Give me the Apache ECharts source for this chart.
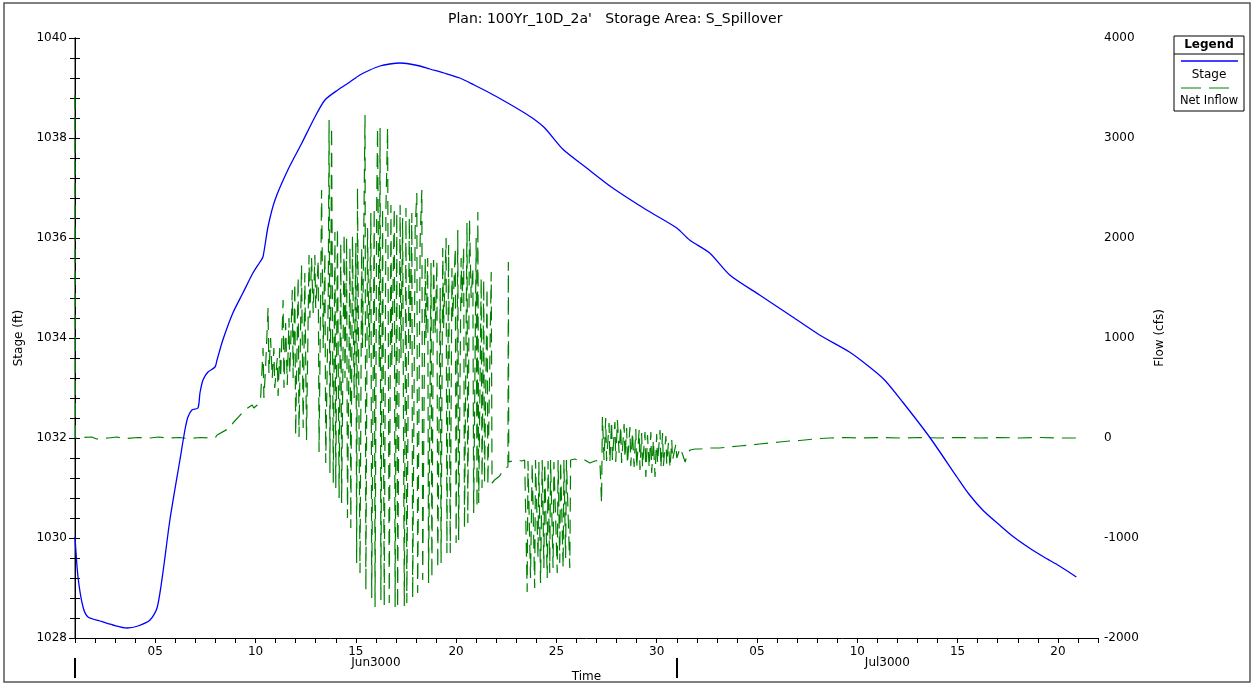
<!DOCTYPE html>
<html>
<head>
<meta charset="utf-8">
<script src="https://cdn.jsdelivr.net/npm/echarts@6/dist/echarts.min.js"></script>
<style>html,body{margin:0;padding:0;background:#fff}#c{width:1253px;height:685px}</style>
</head>
<body>
<div id="c"></div>
<script>
// ---- data ----
const titleText = "Plan: 100Yr_10D_2a'   Storage Area: S_Spillover";
// Stage: time in days since Jun 1 3000 00:00, stage in ft
const stageDay = [0,0.15,0.40,0.65,1.25,1.89,2.59,3.14,3.74,4.09,4.38,4.73,5.23,5.48,5.63,5.83,6.13,6.23,6.38,6.63,6.98,7.08,7.37,7.87,8.37,8.87,9.22,9.37,9.62,9.97,10.61,11.31,11.96,12.46,13.10,13.70,14.20,14.70,15.20,15.69,16.20,16.69,17.20,17.69,18.40,19.18,19.90,20.68,21.40,22.17,22.80,23.42,24.31,25.51,26.81,28.50,30.00,30.64,31.64,32.64,34.13,35.63,37.12,38.61,39.61,40.36,41.26,42.60,44.00,44.60,45.30,46.09,46.80,47.58,48.30,49.08,49.92];
const stageFt = [1030.02,1029.22,1028.62,1028.42,1028.34,1028.26,1028.20,1028.24,1028.36,1028.60,1029.30,1030.36,1031.56,1032.16,1032.42,1032.56,1032.60,1032.90,1033.16,1033.32,1033.42,1033.56,1033.96,1034.50,1034.90,1035.30,1035.52,1035.62,1036.22,1036.76,1037.36,1037.90,1038.42,1038.76,1038.96,1039.12,1039.26,1039.36,1039.44,1039.48,1039.50,1039.48,1039.44,1039.38,1039.30,1039.20,1039.06,1038.90,1038.74,1038.56,1038.40,1038.20,1037.78,1037.40,1037.00,1036.56,1036.20,1035.96,1035.70,1035.26,1034.86,1034.46,1034.06,1033.72,1033.42,1033.16,1032.72,1032.02,1031.20,1030.86,1030.54,1030.26,1030.02,1029.80,1029.62,1029.44,1029.22];
// Net inflow: [hours since Jun 1 3000 00:00, cfs]
const netInflow = [[0,3430],[0.5,0],[20,10],[26,-10],[40,0],[50,10],[60,-5],[75,5],[90,0],[100,10],[110,0],[125,5],[135,-5],[150,5],[160,0],[168,5],
[170,30],[185,100],[189,150],[200,250],[203,280],[212,330],[214,300],[218,330],[222,380],
[225,900],[226,400],[228,700],[231,1300],[232,650],[234,1000],[236,600],[238,900],[239,500],[242,800],[243,420],[245,900],[246,600],[249,1380],[250,500],[252,1150],[254,530],[256,1200],[257,650],[260,1480],[261,600],[263,1550],[264,30],[267,1610],[268,10],[271,1730],[273,100],[275,1650],[277,-20],[280,1830],[281,1200],[283,1800],[285,1250],[287,1830],[288,1300],[291,1780],[292,-140],[294,1500],[295,2480],[297,900],[299,1850],[300,-250],[303,1400],[304,3180],[305,-350],[307,3110],[309,-450],[311,2060],[312,-500],[314,2100],[316,-600],[318,1950],[319,-650],[322,2040],[323,600],[325,2000],[326,-800],[329,1900],[330,-900],[332,2020],[334,400],[336,1950],[337,-1250],[338,2500],[341,-1350],[343,1900],[344,900],[347,3230],[348,-1520],[350,2100],[352,800],[354,2250],[355,-1600],[358,2300],[359,-1690],[361,2350],[362,3100],[364,700],[365,3100],[366,-1620],[368,2300],[370,-1680],[372,2280],[374,3100],[376,-1650],[378,2330],[379,720],[382,2300],[383,-1690],[385,2250],[386,-1700],[389,2330],[390,800],[392,2200],[394,-1680],[396,2300],[397,-1650],[400,2200],[401,850],[403,2250],[404,-1600],[407,2100],[409,2450],[410,-1550],[413,2000],[415,2480],[416,-1420],[419,1800],[420,1000],[422,1800],[423,-1450],[426,1750],[427,-1400],[429,1780],[431,1050],[433,1770],[434,-1300],[437,1500],[438,-1250],[440,1900],[441,1100],[444,2000],[445,-1150],[447,1930],[449,-1150],[451,1700],[452,1200],[455,1900],[456,-1050],[458,2080],[459,-1020],[462,1800],[463,1350],[465,1900],[466,-900],[469,2150],[470,-850],[472,2180],[474,1400],[476,1700],[477,-750],[480,2000],[481,-700],[482,2260],[483,-650],[486,1600],[487,-500],[489,1580],[490,-450],[493,1500],[494,-470],[498,1660],[499,-450],[502,-420],[508,-380],[514,-300],[518,-290],[518.5,1760],[519,-240],[523,-230],[529,-220],[535,-230],[538,-220],
[541,-1540],[542,-230],[544,-210],[545,-1400],[547,-250],[550,-1500],[551,-220],[554,-1200],[555,-240],[557,-1450],[559,-220],[561,-1300],[562,-250],[565,-1400],[566,-230],[568,-1350],[569,-220],[572,-1300],[573,-240],[577,-1350],[578,-220],[580,-1250],[581,-230],[584,-1300],[585,-220],[587,-1200],[588,-220],[592,-1300],[593,-220],
[598,-210],[604,-230],[610,-220],[616,-250],[622,-230],[628,-220],[630,-650],[631,210],[633,-220],[635,200],[636,-230],[639,150],[640,-240],[642,170],[643,-220],[646,160],[647,-240],[649,180],[651,-150],[653,120],[654,-250],[657,140],[658,-200],[660,100],[661,-260],[664,110],[665,-280],[667,60],[669,-290],[671,90],[672,-300],[675,80],[676,-320],[678,50],[679,-290],[682,60],[683,-390],[685,30],[687,-300],[689,60],[690,-350],[692,-20],[694,-390],[696,40],[697,-250],[700,80],[701,-300],[703,50],[704,-280],[707,20],[708,-260],[710,-50],[712,-300],[714,-20],[715,-220],[719,-60],[720,-200],[724,-100],[726,-140],[730,-240],[733,-150],[736,-120],
[742,-110],[748,-110],[760,-100],[771,-100],[783,-90],[795,-80],[807,-70],[819,-60],[831,-50],[843,-40],[855,-30],[867,-25],[879,-15],[891,-5],[903,0],[921,5],[939,0],[963,5],[987,0],[1011,5],[1035,0],[1058,5],[1082,0],[1106,5],[1130,0],[1154,5],[1178,0],[1198,0]];
// Axis ticks / labels
const tickDays = [4,9,14,19,24,29,34,39,44,49];
const tickLabels = ['05','10','15','20','25','30','05','10','15','20'];
const monthDays = [15, 40.5];
const monthLabels = ['Jun3000','Jul3000'];
const monthBreakDays = [0, 30];

// ---- chart ----
const FONT = '"DejaVu Sans", Verdana, sans-serif';
const chart = echarts.init(document.getElementById('c'), null, {renderer:'canvas'});
const dayTicks = [];
for (let d = 0; d <= 51; d++) dayTicks.push(d);
const plain = v => String(v);
const xBase = {type:'value', min:0, max:51, gridIndex:0, position:'bottom', splitLine:{show:false}};
chart.setOption({
  animation:false,
  backgroundColor:'#fff',
  textStyle:{fontFamily:FONT},
  title:{text:titleText, left:443, top:7, textStyle:{fontSize:14, fontWeight:'normal', color:'#000', fontFamily:FONT}},
  grid:{left:75, right:155, top:38, bottom:47, containLabel:false, outerBoundsMode:'none'},
  xAxis:[
    Object.assign({}, xBase, {
      name:'Time', nameLocation:'middle', nameGap:33,
      nameTextStyle:{fontSize:12, color:'#000', fontFamily:FONT},
      axisLine:{show:true, onZero:false, lineStyle:{color:'#000', width:1}},
      axisTick:{show:true, customValues:dayTicks, length:5, lineStyle:{color:'#000'}},
      axisLabel:{show:true, customValues:tickDays, fontSize:12, color:'#000', margin:8,
        formatter:function(v){const i=tickDays.indexOf(Math.round(v));return i>=0?tickLabels[i]:'';}}
    }),
    Object.assign({}, xBase, {
      offset:11,
      axisLine:{show:false, onZero:false},
      axisTick:{show:false},
      axisLabel:{show:true, customValues:monthDays, fontSize:12, color:'#000', margin:8,
        formatter:function(v){const i=monthDays.indexOf(v);return i>=0?monthLabels[i]:'';}}
    }),
    Object.assign({}, xBase, {
      offset:20,
      axisLine:{show:false, onZero:false},
      axisTick:{show:true, customValues:monthBreakDays, length:20, lineStyle:{color:'#000', width:2}},
      axisLabel:{show:false}
    })
  ],
  yAxis:[
    {type:'value', min:1028, max:1040, interval:2, position:'left',
     name:'Stage (ft)', nameLocation:'middle', nameGap:50,
     nameTextStyle:{fontSize:12, color:'#000', fontFamily:FONT},
     axisLine:{show:true, lineStyle:{color:'#666', width:1.5}},
     axisTick:{show:true, length:6, lineStyle:{color:'#000'}},
     minorTick:{show:true, splitNumber:5, length:5, lineStyle:{color:'#000'}},
     axisLabel:{fontSize:12, color:'#000', margin:8, formatter:plain},
     splitLine:{show:false}},
    {type:'value', min:-2000, max:4000, interval:1000, position:'right',
     name:'Flow (cfs)', nameLocation:'middle', nameGap:56,
     nameTextStyle:{fontSize:12, color:'#000', fontFamily:FONT},
     axisLine:{show:true, lineStyle:{color:'#000', width:1}},
     axisTick:{show:true, length:5, lineStyle:{color:'#000'}},
     minorTick:{show:true, splitNumber:5, length:5, lineStyle:{color:'#000'}},
     axisLabel:{fontSize:12, color:'#000', margin:6, formatter:plain},
     splitLine:{show:false}},
  ],
  series:[
    {name:'Net Inflow', type:'line', xAxisIndex:0, yAxisIndex:1, showSymbol:false, symbol:'none',
     data:netInflow.map(p=>[p[0]/24, p[1]]),
     lineStyle:{color:'#008000', width:1.2, type:[14,8]}, z:2},
    {name:'Stage', type:'line', xAxisIndex:0, yAxisIndex:0, showSymbol:false, symbol:'none',
     smooth:0.25,
     data:stageDay.map((d,i)=>[d, stageFt[i]]),
     lineStyle:{color:'#0000ff', width:1.3}, z:3}
  ],
  graphic:[
    {type:'rect', shape:{x:4, y:3, width:1246, height:679}, style:{fill:'none', stroke:'#555', lineWidth:1.5}, silent:true},
    {type:'rect', shape:{x:1174, y:36, width:70, height:75}, style:{fill:'#fff', stroke:'#000', lineWidth:1}},
    {type:'line', shape:{x1:1174, y1:54, x2:1244, y2:54}, style:{stroke:'#000', lineWidth:1}},
    {type:'text', x:1209, y:45, style:{text:'Legend', font:'bold 12px '+FONT, fill:'#000', align:'center', verticalAlign:'middle'}},
    {type:'line', shape:{x1:1181, y1:61, x2:1238, y2:61}, style:{stroke:'#0000ff', lineWidth:1.3}},
    {type:'text', x:1209, y:75, style:{text:'Stage', font:'12px '+FONT, fill:'#000', align:'center', verticalAlign:'middle'}},
    {type:'line', shape:{x1:1181, y1:88, x2:1229, y2:88}, style:{stroke:'#008000', lineWidth:1, lineDash:[20,8]}},
    {type:'text', x:1209, y:101, style:{text:'Net Inflow', font:'11.5px '+FONT, fill:'#000', align:'center', verticalAlign:'middle'}}
  ]
});
</script>
</body>
</html>
